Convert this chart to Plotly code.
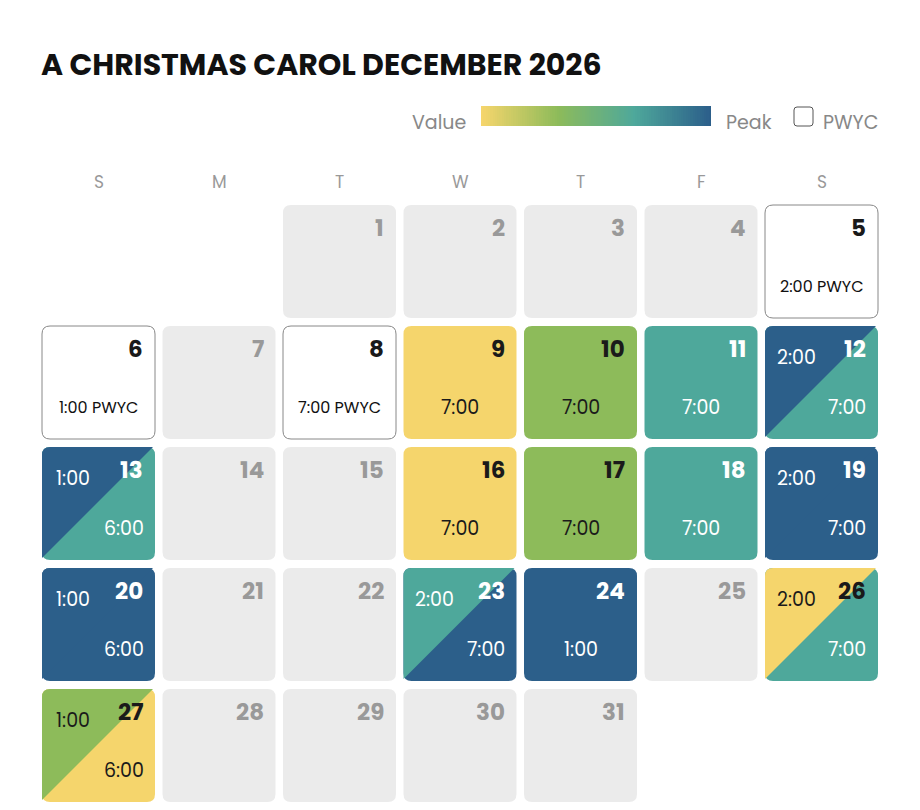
import plotly.graph_objects as go

title = "A CHRISTMAS CAROL DECEMBER 2026"
weekdays = ["S", "M", "T", "W", "T", "F", "S"]
first_weekday = 2  # Dec 1, 2026 is Tuesday
n_days = 31
tier_colors = {"value": "#F5D56C", "low": "#8DBB5A", "mid": "#4EA89B", "peak": "#2C5F8A", "pwyc": "#FFFFFF"}
tier_text = {"value": "#1a1a1a", "low": "#1a1a1a", "mid": "#FFFFFF", "peak": "#FFFFFF", "pwyc": "#1a1a1a"}
shows = {
    5: [("2:00", "pwyc")], 6: [("1:00", "pwyc")], 8: [("7:00", "pwyc")],
    9: [("7:00", "value")], 10: [("7:00", "low")], 11: [("7:00", "mid")],
    12: [("2:00", "peak"), ("7:00", "mid")], 13: [("1:00", "peak"), ("6:00", "mid")],
    16: [("7:00", "value")], 17: [("7:00", "low")], 18: [("7:00", "mid")],
    19: [("2:00", "peak"), ("7:00", "peak")], 20: [("1:00", "peak"), ("6:00", "peak")],
    23: [("2:00", "mid"), ("7:00", "peak")], 24: [("1:00", "peak")],
    26: [("2:00", "value"), ("7:00", "mid")], 27: [("1:00", "low"), ("6:00", "value")],
}
gradient_stops = ["#F5D56C", "#8DBB5A", "#4EA89B", "#2C5F8A"]

FONT = "Poppins, Inter, Roboto, sans-serif"
OFF = 8  # compensate page body margin
col_x = lambda c: 42 + 120.5 * c
row_y = lambda r: 205 + 121 * r
W = H = 113
R = 8

def rrect(x0, y0, x1, y1, r):
    return (f"M{x0+r},{y0} L{x1-r},{y0} Q{x1},{y0} {x1},{y0+r} L{x1},{y1-r} Q{x1},{y1} {x1-r},{y1} "
            f"L{x0+r},{y1} Q{x0},{y1} {x0},{y1-r} L{x0},{y0+r} Q{x0},{y0} {x0+r},{y0} Z")

fig = go.Figure()
shapes, ann = [], []
shapes.append(dict(type="path", path=rrect(1, 1, 919, 840, 20), line=dict(color="#DDDDDD", width=1), fillcolor="white", layer="below"))

def text(x, y, s, size, color, bold=False, xanchor="center"):
    ann.append(dict(x=x, y=y, text=f"<b>{s}</b>" if bold else s, showarrow=False, xanchor=xanchor, yanchor="middle",
                    font=dict(family=FONT, size=size, color=color)))

ann.append(dict(x=39, y=64, text=f"<b>{title}</b>", showarrow=False, xanchor="left", yanchor="middle",
                font=dict(family=FONT, size=30, color="#111111")))
text(468, 122, "Value", 19, "#888888", xanchor="right")
text(724, 122, "Peak", 19, "#888888", xanchor="left")
shapes.append(dict(type="path", path=rrect(794, 107, 813, 126, 3), line=dict(color="#555555", width=1), fillcolor="white"))
text(821, 122, "PWYC", 19, "#888888", xanchor="left")
n = 100
zrow = [i / (n - 1) for i in range(n)]
fig.add_trace(go.Heatmap(z=[zrow, zrow], x=[481 + 230 * (i + 0.5) / n for i in range(n)], y=[111, 121],
                         colorscale=[[i / 3, c] for i, c in enumerate(gradient_stops)], showscale=False, hoverinfo="skip"))

for c, w in enumerate(weekdays):
    text(col_x(c) + W / 2, 182, w, 17, "#999999")

for d in range(1, n_days + 1):
    idx = first_weekday + d - 1
    c, r = idx % 7, idx // 7
    x0, y0 = col_x(c), row_y(r)
    x1, y1 = x0 + W, y0 + H
    s = shows.get(d)
    if not s:
        shapes.append(dict(type="path", path=rrect(x0, y0, x1, y1, R), line=dict(width=0), fillcolor="#EBEBEB"))
        text(x1 - 10, y0 + 23, str(d), 23, "#999999", bold=True, xanchor="right")
        continue
    t0 = s[0][1]
    if t0 == "pwyc":
        shapes.append(dict(type="path", path=rrect(x0, y0, x1, y1, R), line=dict(color="#888888", width=1), fillcolor="white"))
        text(x0 + W / 2, y0 + 81, f"{s[0][0]} PWYC", 16, "#111111")
    elif len(s) == 1:
        shapes.append(dict(type="path", path=rrect(x0, y0, x1, y1, R), line=dict(width=0), fillcolor=tier_colors[t0]))
        text(x0 + W / 2, y0 + 81, s[0][0], 19, tier_text[t0])
    else:
        t1 = s[1][1]
        shapes.append(dict(type="path", path=rrect(x0, y0, x1, y1, R), line=dict(width=0), fillcolor=tier_colors[t1]))
        shapes.append(dict(type="path", path=f"M{x0},{y1-2} L{x0},{y0+R} Q{x0},{y0} {x0+R},{y0} L{x1-2},{y0} Z",
                           line=dict(width=0), fillcolor=tier_colors[t0]))
        text(x0 + 31, y0 + 31, s[0][0], 19, tier_text[t0])
        text(x1 - 31, y0 + 81, s[1][0], 19, tier_text[t1])
    text(x1 - 10, y0 + 23, str(d), 23, tier_text[t0], bold=True, xanchor="right")

fig.update_layout(width=920, height=810, margin=dict(l=0, r=0, t=0, b=0), paper_bgcolor="white", plot_bgcolor="white",
                  shapes=shapes, annotations=ann, showlegend=False,
                  xaxis=dict(range=[OFF, 920 + OFF], visible=False, fixedrange=True),
                  yaxis=dict(range=[810 + OFF, OFF], visible=False, fixedrange=True))
fig.write_html("out.html", config={"displayModeBar": False})
